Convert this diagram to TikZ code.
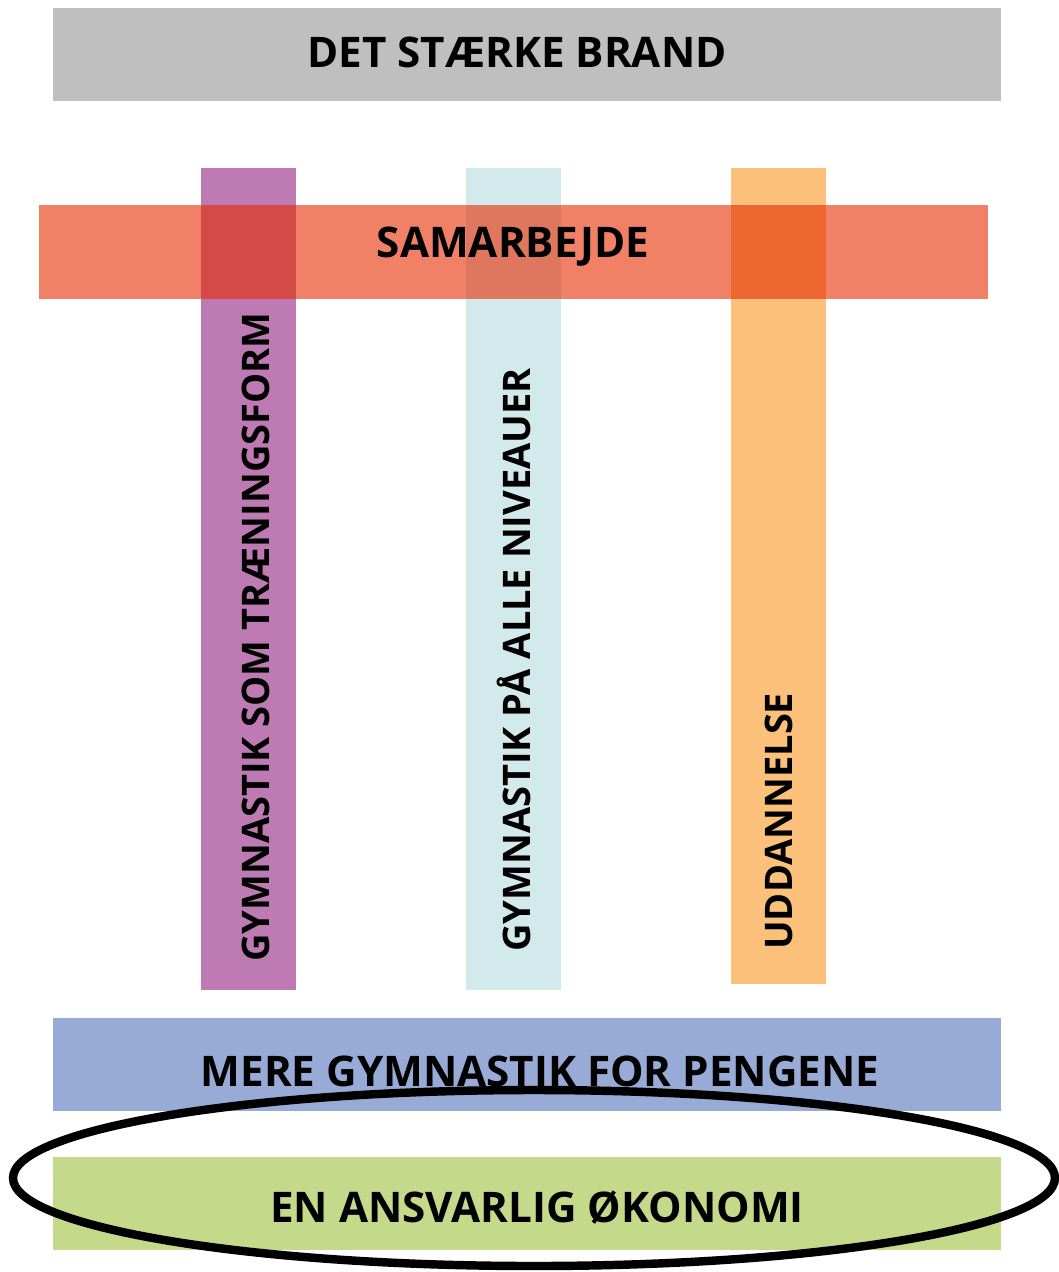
\documentclass[tikz,border=0pt]{standalone}
\usepackage{fontspec}
\setmainfont{Open Sans}
\definecolor{brandgray}{RGB}{191,191,191}
\definecolor{formpurple}{RGB}{189,122,179}
\definecolor{niveaublue}{RGB}{211,234,236}
\definecolor{uddorange}{RGB}{251,192,122}
\definecolor{samred}{RGB}{230,43,0}
\definecolor{pengeblue}{RGB}{152,170,214}
\definecolor{okogreen}{RGB}{196,217,138}

\begin{document}
\begin{tikzpicture}
    [x=0.025cm, y=-0.025cm,
     bar/.style={minimum width=23.7cm, minimum height=2.325cm, inner sep=0pt},
     pillar/.style={minimum width=2.375cm, minimum height=20.55cm, inner sep=0pt},
     label/.style={font=\bfseries\fontsize{30}{30}\selectfont, inner sep=0pt},
     vlabel/.style={label, font=\bfseries\fontsize{27}{27}\selectfont, rotate=90, anchor=west}]

    \useasboundingbox (0, 0) rectangle (1059, 1272);

    % top bar
    \node [bar, fill=brandgray] at (527, 54.5) (brand) {};
    \node [label] at (517, 52) (brandtxt) {DET STÆRKE BRAND};

    % pillars
    \node [pillar, fill=formpurple] at (248.5, 579) (form) {};
    \node [pillar, fill=niveaublue] at (513.5, 579) (niveau) {};
    \node [pillar, fill=uddorange, minimum height=20.4cm] at (778.5, 576) (udd) {};

    \node [vlabel] at (256, 962) (formtxt) {GYMNASTIK SOM TRÆNINGSFORM};
    \node [vlabel] at (514, 952) (niveautxt) {GYMNASTIK PÅ ALLE NIVEAUER};
    \node [vlabel] at (779, 950) (uddtxt) {UDDANNELSE};

    % samarbejde across the pillars
    \node [bar, fill=samred, fill opacity=0.6, minimum width=23.725cm, minimum height=2.35cm]
      at (513.5, 252) (sam) {};
    \node [label] at (513, 247) (samtxt) {SAMARBEJDE};

    % bottom bars
    \node [bar, fill=pengeblue] at (527, 1064.5) (penge) {};
    \node [label] at (540, 1071) (pengetxt) {MERE GYMNASTIK FOR PENGENE};

    \node [bar, fill=okogreen] at (527, 1203.5) (oko) {};
    \node [label] at (537, 1208) (okotxt) {EN ANSVARLIG ØKONOMI};

    \draw [line width=6pt] (534, 1178) ellipse [x radius=521, y radius=88];

  \end{tikzpicture}
\end{document}
